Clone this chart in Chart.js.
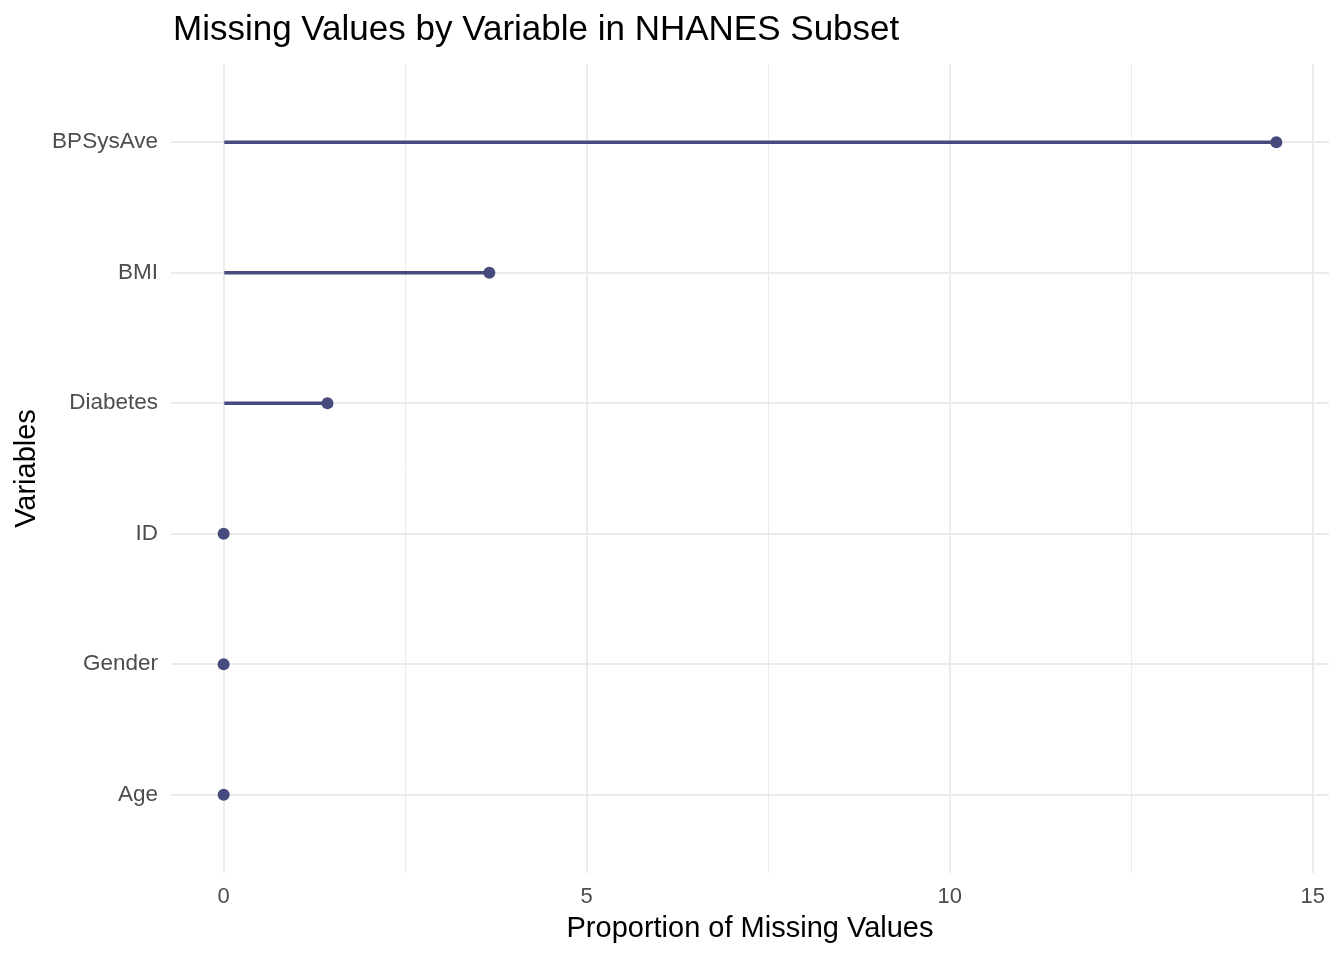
<!DOCTYPE html>
<html>
<head>
<meta charset="utf-8">
<script src="https://cdn.jsdelivr.net/npm/chart.js@4"></script>
<style>
  html, body { margin: 0; padding: 0; background: #ffffff; }
  #wrap { width: 1344px; height: 960px; position: relative; }
</style>
</head>
<body>
<div id="wrap"><canvas id="myChart"></canvas></div>
<script>
// top to bottom, as in the picture
const variables = ['BPSysAve', 'BMI', 'Diabetes', 'ID', 'Gender', 'Age'];
const missing = [14.5, 3.66, 1.43, 0, 0, 0];
const xTicks = [0, 5, 10, 15];
const xMinorTicks = [2.5, 7.5, 12.5];

const dotColor = '#474a7c';
const gridColor = '#ebebeb';
const fontFamily = '"Liberation Sans", Arial, sans-serif';

const points = variables.map((name, i) => ({ x: missing[i], y: i }));

// plot title is left aligned with the panel, so draw it by hand
const titlePlugin = {
  id: 'panelTitle',
  afterDraw(chart) {
    const ctx = chart.ctx;
    ctx.save();
    ctx.font = '35px ' + fontFamily;
    ctx.fillStyle = '#000000';
    ctx.textAlign = 'left';
    ctx.textBaseline = 'alphabetic';
    ctx.fillText('Missing Values by Variable in NHANES Subset', chart.chartArea.left + 2, 40);
    ctx.restore();
  },
};

const ctx = document.getElementById('myChart');

new Chart(ctx, {
  data: {
    datasets: [
      {
        type: 'bar',
        indexAxis: 'y',
        data: points,
        backgroundColor: dotColor,
        barThickness: 3,
        borderWidth: 0,
      },
      {
        type: 'scatter',
        data: points,
        pointRadius: 6,
        pointHoverRadius: 6,
        pointBackgroundColor: dotColor,
        pointBorderWidth: 0,
      },
    ],
  },
  plugins: [titlePlugin],
  options: {
    responsive: true,
    maintainAspectRatio: false,
    devicePixelRatio: 1,
    animation: false,
    layout: { padding: { top: 64, right: 15, left: 0, bottom: 0 } },
    plugins: {
      legend: { display: false },
      tooltip: { enabled: false },
    },
    scales: {
      x: {
        type: 'linear',
        min: -0.725,
        max: 15.225,
        offset: false,
        border: { display: false },
        afterBuildTicks: (axis) => {
          axis.ticks = xTicks.concat(xMinorTicks).sort((a, b) => a - b).map((v) => ({ value: v }));
        },
        afterFit: (axis) => { axis.height = 87; },
        grid: {
          color: gridColor,
          lineWidth: (c) => (xTicks.includes(c.tick.value) ? 2 : 1),
          drawTicks: false,
          offset: false,
        },
        ticks: {
          padding: 11,
          color: '#4d4d4d',
          font: { family: fontFamily, size: 22 },
          maxRotation: 0,
          callback: (v) => (xTicks.includes(v) ? String(v) : ''),
        },
        title: {
          display: true,
          text: 'Proportion of Missing Values',
          color: '#000000',
          font: { family: fontFamily, size: 29 },
          padding: { top: 0, bottom: 14 },
        },
      },
      y: {
        type: 'linear',
        reverse: true,
        min: -0.6,
        max: variables.length - 1 + 0.6,
        offset: false,
        border: { display: false },
        afterBuildTicks: (axis) => {
          axis.ticks = variables.map((_, i) => ({ value: i }));
        },
        afterFit: (axis) => { axis.width = 171; },
        grid: {
          color: gridColor,
          lineWidth: 2,
          drawTicks: false,
          offset: false,
        },
        ticks: {
          padding: 13,
          color: '#4d4d4d',
          font: { family: fontFamily, size: 22.5 },
          callback: (v) => variables[v] ?? '',
        },
        title: {
          display: true,
          text: 'Variables',
          color: '#000000',
          font: { family: fontFamily, size: 29 },
          padding: { top: 10, bottom: 0 },
        },
      },
    },
  },
});
</script>
</body>
</html>
